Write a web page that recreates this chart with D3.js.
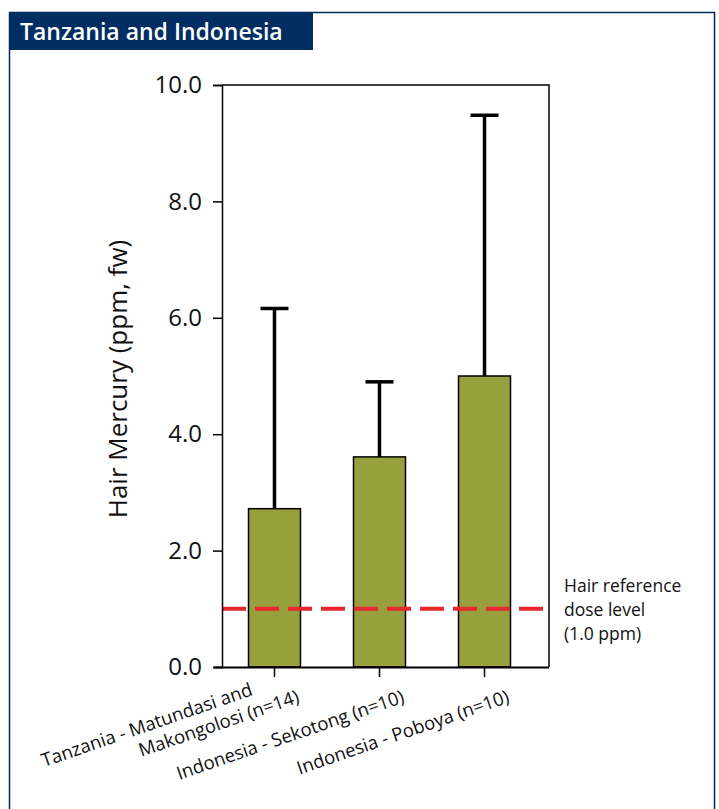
<!DOCTYPE html>
<html>
<head>
<meta charset="utf-8">
<script src="https://cdn.jsdelivr.net/npm/d3@7"></script>
<style>
  html, body { margin: 0; padding: 0; background: #fff; }
  svg { display: block; }
  text { font-family: "Open Sans", "Noto Sans", sans-serif; fill: #111; }
</style>
</head>
<body>
<svg id="chart" width="719" height="809"></svg>
<script>
// Hair mercury by site: group means with upper error bars
const categories = [
  ["Tanzania - Matundasi and", "Makongolosi (n=14)"],
  ["Indonesia - Sekotong (n=10)"],
  ["Indonesia - Poboya (n=10)"]
];
const meanValues = [2.72, 3.61, 5.0];
const upperValues = [6.16, 4.90, 9.48];
const yTicks = [0, 2, 4, 6, 8, 10];
const referenceDose = 1.0;
const referenceLabel = ["Hair reference", "dose level", "(1.0 ppm)"];
const titleText = "Tanzania and Indonesia";
const yAxisTitle = "Hair Mercury (ppm, fw)";

const svg = d3.select("#chart");
const navy = "#002d62";

// Outer panel and title banner
svg.append("rect")
  .attr("x", 9.5).attr("y", 12.5)
  .attr("width", 705).attr("height", 810)
  .attr("fill", "#fff").attr("stroke", navy).attr("stroke-width", 1.5);
svg.append("rect")
  .attr("x", 9).attr("y", 12)
  .attr("width", 304).attr("height", 38)
  .attr("fill", navy);
svg.append("text")
  .attr("x", 20).attr("y", 40)
  .attr("font-size", 23).attr("font-weight", 600)
  .style("fill", "#fff")
  .text(titleText);

// Plot area
const plotLeft = 222, plotRight = 549, plotTop = 85, plotBottom = 667;

const x = d3.scaleBand()
  .domain(d3.range(categories.length))
  .range([plotLeft, 537])
  .paddingInner(0.505)
  .paddingOuter(0.2524);

const y = d3.scaleLinear().domain([0, 10]).range([plotBottom, plotTop]);

// Frame (top and right edges)
svg.append("path")
  .attr("d", `M${plotLeft},${plotTop}H${plotRight}V${plotBottom}`)
  .attr("fill", "none").attr("stroke", "#000").attr("stroke-width", 1.5);

// Bars
const barFill = "#97a03c";
svg.append("g").selectAll("rect")
  .data(meanValues)
  .join("rect")
  .attr("x", (d, i) => x(i))
  .attr("y", d => y(d))
  .attr("width", x.bandwidth())
  .attr("height", d => y(0) - y(d))
  .attr("fill", barFill)
  .attr("stroke", "#000")
  .attr("stroke-width", 1.5);

// Upper error bars
const capHalf = 14;
const err = svg.append("g").attr("stroke", "#000").attr("stroke-width", 3.5).attr("fill", "none");
meanValues.forEach((m, i) => {
  const cx = x(i) + x.bandwidth() / 2;
  err.append("line")
    .attr("x1", cx).attr("x2", cx)
    .attr("y1", y(m)).attr("y2", y(upperValues[i]));
  err.append("line")
    .attr("x1", cx - capHalf).attr("x2", cx + capHalf)
    .attr("y1", y(upperValues[i])).attr("y2", y(upperValues[i]));
});

// Reference dose line
svg.append("line")
  .attr("x1", plotLeft).attr("x2", plotRight)
  .attr("y1", y(referenceDose)).attr("y2", y(referenceDose))
  .attr("stroke", "#e8262d").attr("stroke-width", 4)
  .attr("stroke-dasharray", "24,9");

// Y axis
const yAxis = svg.append("g")
  .attr("transform", `translate(${plotLeft},0)`)
  .call(d3.axisLeft(y).tickValues(yTicks).tickFormat(d3.format(".1f")).tickSize(9).tickPadding(11));
yAxis.select(".domain").attr("stroke", "#000").attr("stroke-width", 1.5);
yAxis.selectAll(".tick line").attr("stroke", "#000").attr("stroke-width", 1.5);
yAxis.selectAll(".tick text")
  .attr("font-size", 24)
  .attr("font-family", "\"Open Sans\", sans-serif")
  .style("fill", "#111");

// X axis
const xAxis = svg.append("g")
  .attr("transform", `translate(0,${plotBottom})`)
  .call(d3.axisBottom(x).tickSize(10).tickFormat(""));
xAxis.select(".domain").attr("d", `M${plotLeft - 8},0.5H${plotRight}`).attr("stroke", "#000").attr("stroke-width", 2);
xAxis.selectAll(".tick line").attr("stroke", "#000").attr("stroke-width", 1.5);

// Rotated category labels
const angle = -19;
const labels = svg.append("g");
categories.forEach((lines, i) => {
  const cx = x(i) + x.bandwidth() / 2;
  const t = labels.append("text")
    .attr("transform", `translate(${cx + 26},${plotBottom + 35}) rotate(${angle})`)
    .attr("text-anchor", "end")
    .attr("font-size", 18.5);
  const n = lines.length;
  lines.forEach((line, j) => {
    const up = n - 1 - j;
    t.append("tspan")
      .attr("x", -42 * up)
      .attr("y", -22 * up)
      .text(line);
  });
});

// Y axis title
svg.append("text")
  .attr("transform", `translate(127,379) rotate(-90)`)
  .attr("text-anchor", "middle")
  .attr("font-size", 26)
  .text(yAxisTitle);

// Reference annotation
svg.append("text")
  .attr("font-size", 17.5)
  .selectAll("tspan")
  .data(referenceLabel)
  .join("tspan")
  .attr("x", 564)
  .attr("y", (d, i) => 592 + i * 24)
  .text(d => d);
</script>
</body>
</html>
